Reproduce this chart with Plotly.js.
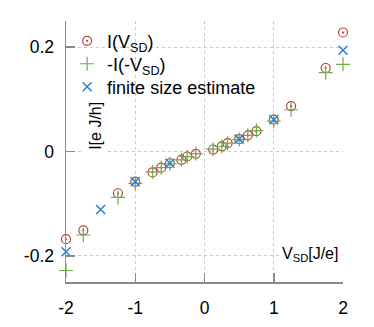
<!DOCTYPE html>
<html>
<head>
<meta charset="utf-8">
<script src="https://cdn.plot.ly/plotly-3.0.1.min.js"></script>
<style>html,body{margin:0;padding:0;background:#fff;}#chart{width:374px;height:327px;}</style>
</head>
<body>
<div id="chart"></div>
<script>
// Data
const vsd = [-2, -1.75, -1.25, -1, -0.75, -0.625, -0.5, -0.3333, -0.25, -0.125,
             0.125, 0.25, 0.3333, 0.5, 0.625, 0.75, 1, 1.25, 1.75, 2];
const currentPos = [-0.168, -0.151, -0.080, -0.058, -0.040, -0.031, -0.0225, -0.016, -0.0096, -0.0045,
                    0.0038, 0.0100, 0.016, 0.0237, 0.031, 0.039, 0.061, 0.087, 0.160, 0.228];
const currentNeg = [-0.228, -0.160, -0.088, -0.061, -0.039, -0.031, -0.0235, -0.016, -0.0100, -0.0040,
                    0.0045, 0.0096, 0.016, 0.0228, 0.031, 0.040, 0.058, 0.080, 0.151, 0.167];
const vsdFinite = [-2, -1.5, -1, -0.5, 0.5, 1, 2];
const currentFinite = [-0.192, -0.111, -0.058, -0.0225, 0.0237, 0.061, 0.194];

const xTickVals = [-2, -1, 0, 1, 2];
const xTickText = ['-2', '-1', '0', '1', '2'];
const yTickVals = [-0.2, 0, 0.2];
const yTickText = ['-0.2', '0', '0.2'];

const seriesNames = ['I(V<sub>SD</sub>)', '-I(-V<sub>SD</sub>)', 'finite size estimate'];
const xLabel = 'V<sub>SD</sub>[J/e]';
const yLabel = 'I[e J/h]';

const FONT = 'Liberation Sans, Arial, Helvetica, sans-serif';

const traces = [
  {x: vsd, y: currentPos, name: seriesNames[0], mode: 'markers', type: 'scatter', cliponaxis: false, legend: 'legend',
   marker: {symbol: 'circle-open-dot', size: 9, color: '#b5443a', line: {width: 1.2, color: '#b5443a'}}},
  {x: vsd, y: currentNeg, name: seriesNames[1], mode: 'markers', type: 'scatter', cliponaxis: false, legend: 'legend2',
   marker: {symbol: 'cross-thin-open', size: 10, color: '#6cae4a', line: {width: 1.2, color: '#6cae4a'}}},
  {x: vsdFinite, y: currentFinite, name: seriesNames[2], mode: 'markers', type: 'scatter', cliponaxis: false, legend: 'legend3',
   marker: {symbol: 'x-thin-open', size: 9, color: '#2d7fd0', line: {width: 1.5, color: '#2d7fd0'}}}
];

const axisCommon = {
  showline: true, linecolor: '#8a8a8a', linewidth: 1.5,
  ticks: 'inside', ticklen: 9, tickwidth: 1.5, tickcolor: '#8a8a8a',
  showgrid: true, gridcolor: '#c8c8c8', griddash: 'dot', gridwidth: 1,
  zeroline: false, mirror: false,
  tickfont: {family: FONT, size: 17.5, color: '#000'}
};

function legendAt(yPos) {
  return {x: 0.004, y: yPos, xanchor: 'left', yanchor: 'middle', bgcolor: 'rgba(0,0,0,0)',
          font: {family: FONT, size: 18, color: '#000'}, itemwidth: 30};
}

const layout = {
  width: 374, height: 327,
  margin: {l: 66, r: 31, t: 21, b: 45},
  paper_bgcolor: '#fff', plot_bgcolor: '#fff',
  showlegend: true,
  font: {family: FONT, size: 16, color: '#000'},
  xaxis: Object.assign({}, axisCommon, {range: [-2, 2], tickmode: 'array', tickvals: xTickVals, ticktext: xTickText, ticklabelstandoff: 9}),
  yaxis: Object.assign({}, axisCommon, {range: [-0.25, 0.25], tickmode: 'array', tickvals: yTickVals, ticktext: yTickText, ticklabelstandoff: 7}),
  legend: legendAt(0.923),
  legend2: legendAt(0.835),
  legend3: legendAt(0.747),
  shapes: [
    {type: 'rect', xref: 'paper', yref: 'paper', x0: 0.005, x1: 0.5, y0: 0.71, y1: 0.955,
     fillcolor: '#fff', line: {width: 0}, layer: 'between'}
  ],
  annotations: [
    {text: yLabel, xref: 'paper', yref: 'paper', x: 0.108, y: 0.598, xanchor: 'center', yanchor: 'middle',
     textangle: -90, showarrow: false, bgcolor: '#fff', borderpad: 3, font: {family: FONT, size: 16, color: '#000'}},
    {text: xLabel, xref: 'paper', yref: 'paper', x: 0.993, y: 0.107, xanchor: 'right', yanchor: 'middle',
     showarrow: false, bgcolor: '#fff', borderpad: 2, font: {family: FONT, size: 16, color: '#000'}}
  ]
};

Plotly.newPlot('chart', traces, layout, {displayModeBar: false, staticPlot: true});
</script>
</body>
</html>
